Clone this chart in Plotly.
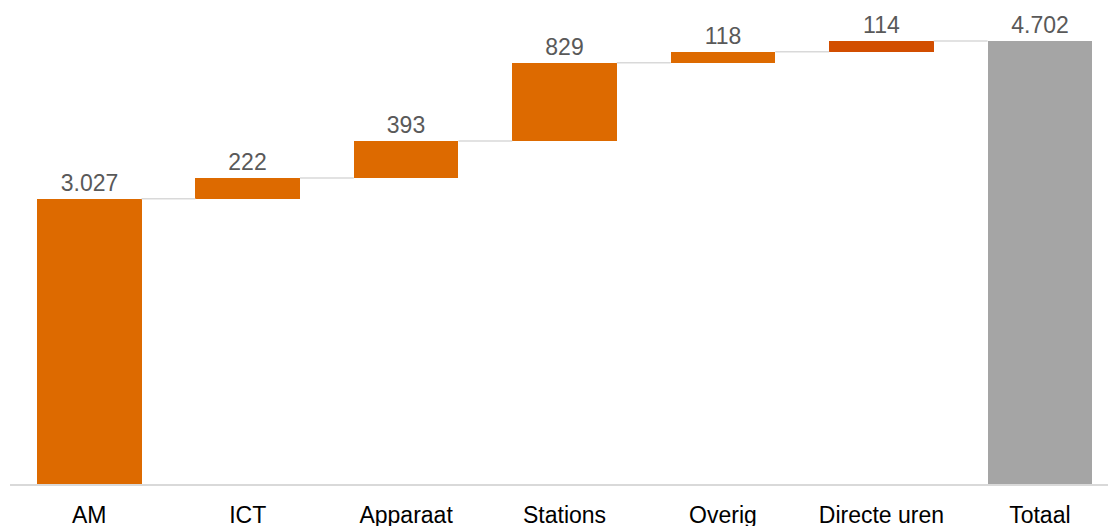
import plotly.graph_objects as go

categories = ["AM", "ICT", "Apparaat", "Stations", "Overig", "Directe uren", "Totaal"]
values = [3027, 222, 393, 829, 118, 114, 4702]
labels = ["3.027", "222", "393", "829", "118", "114", "4.702"]
colors = ["#DD6A00", "#DD6A00", "#DD6A00", "#DD6A00", "#DD6A00", "#D24E00", "#A5A5A5"]

# bases: cumulative for steps, total from zero
bases = []
cum = 0
for i, v in enumerate(values):
    if i == len(values) - 1:
        bases.append(0)
    else:
        bases.append(cum)
        cum += v
tops = [b + v for b, v in zip(bases, values)]

x = list(range(len(categories)))
w = 0.66

fig = go.Figure()

# connectors
cx, cy = [], []
for i in range(len(values) - 1):
    cx += [i + w / 2, i + 1 - w / 2, None]
    cy += [tops[i], tops[i], None]
fig.add_trace(go.Scatter(x=cx, y=cy, mode="lines", line=dict(color="#D9D9D9", width=1.5),
                         hoverinfo="skip", showlegend=False))

fig.add_trace(go.Bar(
    x=x, y=values, base=bases, width=w,
    marker=dict(color=colors, line=dict(width=0)),
    text=labels, textposition="outside", cliponaxis=False,
    textfont=dict(family="Liberation Sans, Arial", size=23, color="#595959"),
    showlegend=False,
))

fig.update_layout(
    width=1108, height=526,
    margin=dict(l=10, r=0, t=0, b=42),
    plot_bgcolor="white", paper_bgcolor="white",
    font=dict(family="Liberation Sans, Arial", size=23, color="#000000"),
    xaxis=dict(range=[-0.5, 6.43], tickvals=x, ticktext=categories, showgrid=False,
               showline=True, linecolor="#D9D9D9", linewidth=2, ticks="", zeroline=False,
               ticklabelstandoff=9, automargin=False,
               tickfont=dict(size=23, color="#000000")),
    yaxis=dict(range=[0, 5138], visible=False, showgrid=False, zeroline=False,
               automargin=False),
    bargap=0,
)

fig.write_html("out.html")
